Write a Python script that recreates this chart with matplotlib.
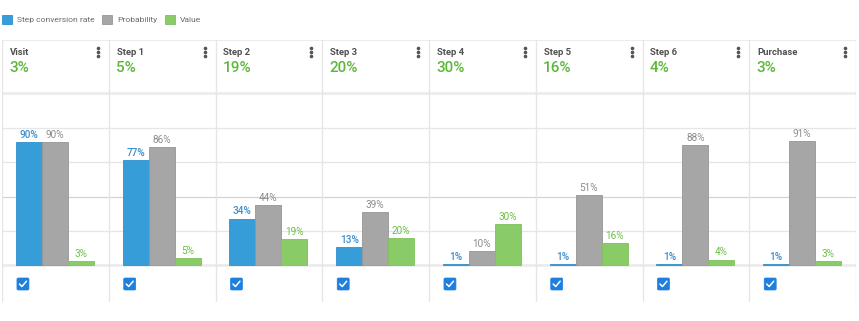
import matplotlib
matplotlib.use("Agg")
import matplotlib.pyplot as plt
from matplotlib.patches import FancyBboxPatch
import numpy as np

plt.rcParams['font.family'] = ['Roboto', 'DejaVu Sans']

steps = ["Visit", "Step 1", "Step 2", "Step 3", "Step 4", "Step 5", "Step 6", "Purchase"]
step_conversion = [90, 77, 34, 13, 1, 1, 1, 1]
probability = [90, 86, 44, 39, 10, 51, 88, 91]
value = [3, 5, 19, 20, 30, 16, 4, 3]
header_values = ["3%", "5%", "19%", "20%", "30%", "16%", "4%", "3%"]
series_names = ["Step conversion rate", "Probability", "Value"]

BLUE = "#379dd8"
GRAY = "#a6a6a6"
GREEN = "#89cb66"
BLUE_T = "#3a8fd0"
GRAY_T = "#8c8c8c"
GREEN_T = "#6cbf45"
HEAD_GREEN = "#5db83a"
LINE = "#e6e6e6"

W, H = 859, 321
fig = plt.figure(figsize=(W / 100, H / 100), dpi=100)
# axes covers x 2..856 px, y 40..302 px
ax = fig.add_axes([2 / W, (H - 302) / H, 854 / W, 262 / H])
n = len(steps)
px_per_pct = 1.367
ax.set_xlim(0, n)
ax.set_ylim(-(302 - 265) / px_per_pct, (265 - 40) / px_per_pct)
ax.axis("off")

x = np.arange(n)
bw = 26 / 107
offs = [27 / 107, 53 / 107, 79 / 107]

# grid lines
for g in [25, 50, 75, 100]:
    ax.axhline(g, color="#d4d4d4" if g == 50 else LINE, lw=0.9, zorder=0)
ax.axhline(0, color="#ebebeb", lw=2.0, zorder=0)
header_bottom = (265 - 93) / px_per_pct
ax.axhline(header_bottom, color="#ececec", lw=2.0, zorder=0)
ax.axhline(ax.get_ylim()[1], color="#ececec", lw=1.5, zorder=0)
for i in range(n + 1):
    ax.axvline(i, color=LINE, lw=1.0, zorder=0)

series = [step_conversion, probability, value]
colors = [BLUE, GRAY, GREEN]
edges = ["#2f8fcb", "#969696", "#7fc05c"]
tcolors = [BLUE_T, GRAY_T, GREEN_T]
weights = ["medium", "normal", "normal"]
handles = []
for vals, off, c, ec, tc, wgt, name in zip(series, offs, colors, edges, tcolors, weights, series_names):
    bars = ax.bar(x + off, vals, width=bw, color=c, edgecolor=ec, linewidth=0.6,
                  label=name, zorder=2)
    handles.append(bars)
    for b, v in zip(bars, vals):
        ax.annotate(f"{v}%", (b.get_x() + b.get_width() / 2, v), xytext=(0, 1.5),
                    textcoords="offset points", ha="center", va="bottom",
                    fontsize=7.2, color=tc, fontweight=wgt, zorder=3)

# headers
y_title = (265 - 52) / px_per_pct
y_val = (265 - 68) / px_per_pct
for i, (name, hv) in enumerate(zip(steps, header_values)):
    ax.text(i + 8 / 107, y_title, name, fontsize=6.8, fontweight="bold",
            color="#505050", ha="left", va="center")
    ax.text(i + 7 / 107, y_val, hv, fontsize=11, fontweight="medium",
            color=HEAD_GREEN, ha="left", va="center")
    dots_y = [(265 - yy) / px_per_pct for yy in (48, 52, 56)]
    ax.plot([i + 96 / 107] * 3, dots_y, "o", ms=1.6, color="#555555", zorder=3)
    # checkbox
    cx, cy = i + 21 / 107, (265 - 284) / px_per_pct
    hw, hh = 6 / 107, 6 / px_per_pct
    box = FancyBboxPatch((cx - hw, cy - hh), 2 * hw, 2 * hh,
                         boxstyle="round,pad=0,rounding_size=0.012",
                         mutation_aspect=107 / px_per_pct,
                         facecolor="#1e7fdf", edgecolor="#1e7fdf", lw=0.5, zorder=3)
    ax.add_patch(box)
    ax.plot([cx - 3.5 / 107, cx - 1 / 107, cx + 3.5 / 107],
            [cy + 0 / px_per_pct, cy - 2.5 / px_per_pct, cy + 2.8 / px_per_pct],
            color="white", lw=1.1, solid_capstyle="round", zorder=4)

leg = fig.legend(handles=handles, labels=series_names, loc="upper left",
                 bbox_to_anchor=(2 / W, 1 - 15 / H), ncol=3, frameon=False,
                 fontsize=6.1, handlelength=1.2, handleheight=1.2,
                 handletextpad=0.6, columnspacing=0.85, borderpad=0,
                 borderaxespad=0)
for t in leg.get_texts():
    t.set_color("#6b6b6b")

fig.savefig("out.png", dpi=100)
